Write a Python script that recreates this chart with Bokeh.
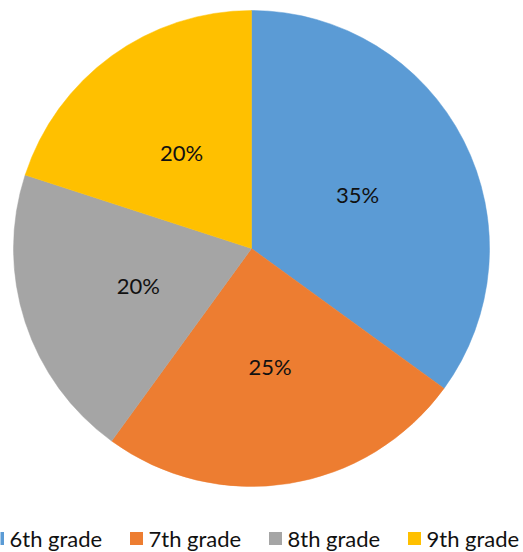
import math
from bokeh.plotting import figure
from bokeh.models import Range1d, ColumnDataSource
from bokeh.core.properties import value
from bokeh.embed import file_html
from bokeh.resources import INLINE

categories = ["6th grade", "7th grade", "8th grade", "9th grade"]
shares = [35, 25, 20, 20]
labels = ["35%", "25%", "20%", "20%"]
colors = ["#5B9BD5", "#ED7D31", "#A5A5A5", "#FFC000"]

W, H = 523, 552
cx, cy, R = 251, H - 248, 238

total = sum(shares)
starts, ends, lx, ly = [], [], [], []
a = math.pi / 2
for s in shares:
    span = 2 * math.pi * s / total
    starts.append(a)
    ends.append(a - span)
    mid = a - span / 2
    lx.append(cx + 0.5 * R * math.cos(mid))
    ly.append(cy + 0.5 * R * math.sin(mid))
    a -= span

src = ColumnDataSource(dict(start=starts, end=ends, color=colors, lx=lx, ly=ly,
                            label=labels, cat=categories))

p = figure(width=W, height=H, output_backend="svg", toolbar_location=None,
           x_range=Range1d(0, W), y_range=Range1d(0, H), min_border=0)
p.axis.visible = False
p.grid.visible = False
p.outline_line_color = None
p.background_fill_color = "white"
p.border_fill_color = "white"

p.wedge(x=cx, y=cy, radius=R, start_angle="start", end_angle="end", direction="clock",
        fill_color="color", line_color="color", line_width=0.5, source=src)
p.text(x="lx", y="ly", text="label", source=src, text_align="center", text_baseline="middle",
       text_font=value("Lato"), text_font_size="22px", text_color="#111111")

# legend
leg_x = [-9, 130, 269, 408]
leg_y = [H - 538] * 4
p.rect(x=[x + 6 for x in leg_x], y=leg_y, width=13, height=13, fill_color=colors, line_color=None)
p.text(x=[x + 18 for x in leg_x], y=leg_y, text=categories, text_align="left", text_baseline="middle",
       text_font=value("Lato"), text_font_size="22px", text_color="#111111")

open("out.html", "w").write(file_html(p, INLINE))
